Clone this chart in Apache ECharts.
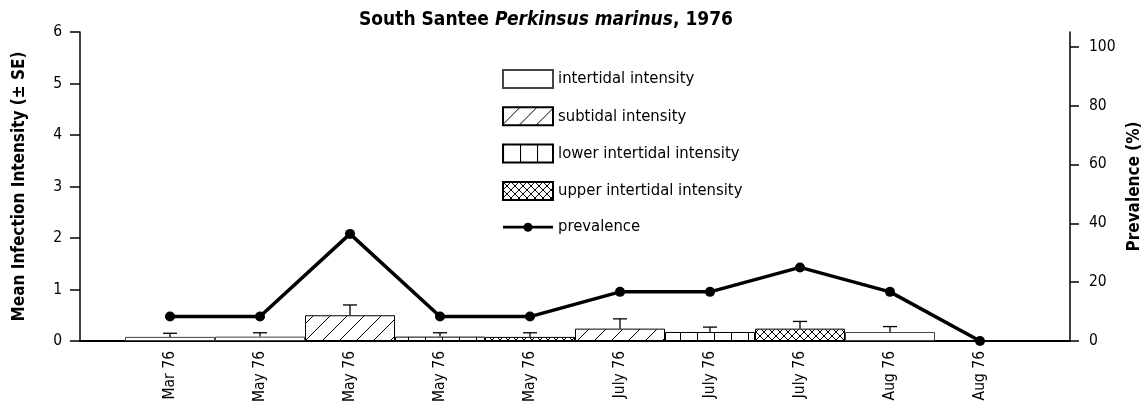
<!DOCTYPE html>
<html>
<head>
<meta charset="utf-8">
<script src="https://cdn.jsdelivr.net/npm/echarts@6/dist/echarts.min.js"></script>
<style>
html,body{margin:0;padding:0;background:#fff;}
#chart{width:1146px;height:404px;}
</style>
</head>
<body>
<div id="chart"></div>
<script>
// data
const categories = ['Mar 76','May 76','May 76','May 76','May 76','July 76','July 76','July 76','Aug 76','Aug 76']
const site = ['inter','inter','sub','lower','upper','sub','lower','upper','inter',null]
const meanIntensity = [0.08,0.085,0.5,0.085,0.08,0.24,0.175,0.24,0.175,null]
const se = [0.07,0.075,0.2,0.075,0.08,0.19,0.095,0.14,0.105,null]
const prevalence = [8.3,8.3,36.4,8.3,8.3,16.7,16.7,25,16.7,0]
const leftTicks = [0,1,2,3,4,5,6]
const rightTicks = [0,20,40,60,80,100]

const FONT = '"Liberation Sans Narrow","DejaVu Sans Condensed","Liberation Sans",sans-serif'

// padded axis: one empty slot at each end
const axisData = [''].concat(categories, [''])
function pick(key){
    return [null].concat(meanIntensity.map((v,i)=> site[i]===key ? v : null), [null])
}

// fill patterns
function tile(w,h,draw){
    const c = document.createElement('canvas')
    c.width = w; c.height = h
    const g = c.getContext('2d')
    g.fillStyle = '#fff'; g.fillRect(0,0,w,h)
    g.strokeStyle = '#000'; g.lineWidth = 1
    draw(g)
    return {image:c, repeat:'repeat'}
}
const diag = tile(17,17,g=>{
    g.beginPath(); g.moveTo(-1,18); g.lineTo(18,-1); g.stroke()
})
const vert = tile(17,10,g=>{
    g.beginPath(); g.moveTo(0.5,0); g.lineTo(0.5,10); g.stroke()
})
const cross = tile(8,8,g=>{
    g.beginPath(); g.moveTo(0,0); g.lineTo(8,8); g.moveTo(8,0); g.lineTo(0,8); g.stroke()
})

// legend icon for the line: bar + dot, with tiny corner marks to keep a 50x18 box
const lineIcon = 'path://M0,0L0.01,0L0,0.01Z M50,18L49.99,18L50,17.99Z M0,7.6L50,7.6L50,10.4L0,10.4Z M25,4.5A4.5,4.5 0 1,1 24.99,4.5Z'

const errData = []
meanIntensity.forEach((m,i)=>{
    if(m!=null) errData.push([i+1, m, m+se[i]])
})

function barSeries(name,key,fill,border){
    return {
        name:name, type:'bar', data:pick(key), barWidth:90, barGap:'-100%',
        itemStyle:{color:fill, borderColor:border, borderWidth:1},
        z:2
    }
}

const myChart = echarts.init(document.getElementById('chart'))
const option = {
    animation:false,
    backgroundColor:'#fff',
    textStyle:{fontFamily:FONT},
    title:{
        text:'{b|South Santee }{i|Perkinsus marinus}{b|, 1976}',
        left:541, top:6, textAlign:'center',
        textStyle:{
            fontFamily:FONT,
            rich:{
                b:{fontFamily:FONT,fontSize:19,fontWeight:'bold',color:'#000'},
                i:{fontFamily:FONT,fontSize:19,fontWeight:'bold',fontStyle:'italic',color:'#000'}
            }
        }
    },
    legend:{
        orient:'vertical', left:497, top:64,
        itemWidth:50, itemHeight:18, itemGap:17.3,
        textStyle:{fontFamily:FONT,fontSize:16.5,color:'#000',padding:[0,0,0,0]},
        data:[
            {name:'intertidal intensity',icon:'rect'},
            {name:'subtidal intensity',icon:'rect'},
            {name:'lower intertidal intensity',icon:'rect'},
            {name:'upper intertidal intensity',icon:'rect'},
            {name:'prevalence',icon:lineIcon,itemStyle:{color:'#000',borderWidth:0}}
        ]
    },
    grid:{left:80,right:76,top:32,bottom:63,outerBoundsMode:'none',containLabel:false},
    xAxis:{
        type:'category', data:axisData, boundaryGap:false,
        axisLine:{lineStyle:{color:'#000',width:2}},
        axisTick:{show:false},
        axisLabel:{rotate:90,interval:0,margin:10,fontSize:15.5,color:'#000',fontFamily:FONT}
    },
    yAxis:[{
        type:'value', min:0, max:6, interval:1,
        name:'Mean Infection Intensity (± SE)', nameLocation:'middle', nameGap:52, nameRotate:90,
        nameTextStyle:{fontFamily:FONT,fontSize:17,fontWeight:'bold',color:'#000'},
        axisLine:{show:true,lineStyle:{color:'#000',width:1.5}},
        axisTick:{show:true,inside:false,length:10,lineStyle:{color:'#000',width:1.5}},
        axisLabel:{customValues:leftTicks,margin:18,fontSize:15.5,color:'#000',fontFamily:FONT},
        splitLine:{show:false}
    },{
        type:'value', min:0, max:105, position:'right',
        name:'Prevalence (%)', nameLocation:'middle', nameGap:52, nameRotate:90,
        nameTextStyle:{fontFamily:FONT,fontSize:17,fontWeight:'bold',color:'#000'},
        axisLine:{show:true,lineStyle:{color:'#000',width:1.5}},
        axisTick:{show:true,inside:false,length:9,customValues:rightTicks,lineStyle:{color:'#000',width:1.5}},
        axisLabel:{customValues:rightTicks,margin:19,fontSize:15.5,color:'#000',fontFamily:FONT},
        splitLine:{show:false}
    }],
    series:[
        barSeries('intertidal intensity','inter','#fff','#444'),
        barSeries('subtidal intensity','sub',diag,'#000'),
        barSeries('lower intertidal intensity','lower',vert,'#000'),
        barSeries('upper intertidal intensity','upper',cross,'#000'),
        {
            name:'se', type:'custom', data:errData, z:3,
            encode:{x:0,y:[1,2]},
            renderItem:function(params,api){
                const p0 = api.coord([api.value(0),api.value(1)])
                const p1 = api.coord([api.value(0),api.value(2)])
                const st = {stroke:'#000',lineWidth:1.3}
                return {type:'group',children:[
                    {type:'line',shape:{x1:p0[0],y1:p0[1],x2:p1[0],y2:p1[1]},style:st},
                    {type:'line',shape:{x1:p1[0]-7,y1:p1[1],x2:p1[0]+7,y2:p1[1]},style:st}
                ]}
            }
        },
        {
            name:'prevalence', type:'line', yAxisIndex:1,
            data:[null].concat(prevalence,[null]),
            symbol:'circle', symbolSize:10, z:5,
            lineStyle:{color:'#000',width:3.5},
            itemStyle:{color:'#000'}
        }
    ]
}
myChart.setOption(option)
</script>
</body>
</html>
